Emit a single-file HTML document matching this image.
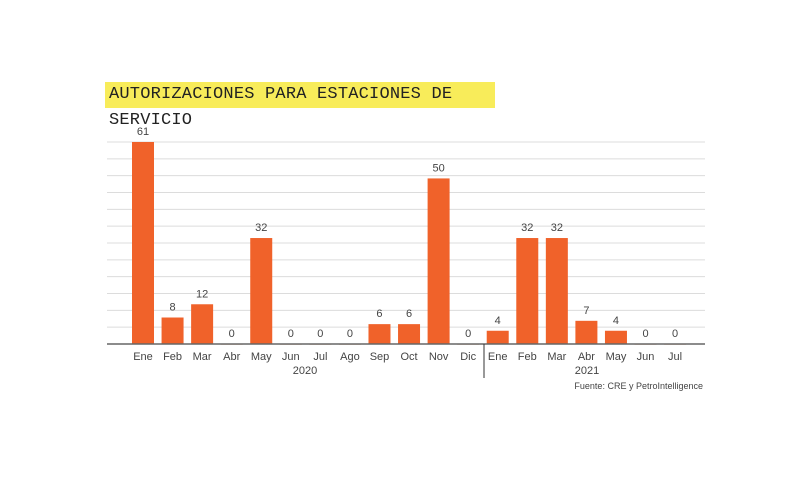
<!DOCTYPE html>
<html><head><meta charset="utf-8">
<style>
html,body{margin:0;padding:0;background:#fff;width:800px;height:502px;overflow:hidden}
#title{position:absolute;left:105px;top:82px;width:390px;height:26px;background:#f8ec5a;font-family:"Liberation Mono",monospace;font-size:17px;line-height:26px;color:#222;padding-left:4px;box-sizing:border-box;letter-spacing:0.2px}
svg{position:absolute;left:0;top:0}
text{font-family:"Liberation Sans",sans-serif;fill:#444}
</style></head>
<body>
<div id="title">AUTORIZACIONES PARA ESTACIONES DE SERVICIO</div>
<svg id="chart" width="800" height="502"></svg>
<script>
const categories=["Ene","Feb","Mar","Abr","May","Jun","Jul","Ago","Sep","Oct","Nov","Dic","Ene","Feb","Mar","Abr","May","Jun","Jul"];
const values=[61,8,12,0,32,0,0,0,6,6,50,0,4,32,32,7,4,0,0];
const years=["2020","2021"];
const NS="http://www.w3.org/2000/svg";
const svg=document.getElementById('chart');
const base=344, top61=142, x0=143, step=29.56, bw=22;
const yScale=v=>base-v*(base-top61)/61;
const xScale=i=>x0+i*step;
function el(t,a){const e=document.createElementNS(NS,t);for(const k in a)e.setAttribute(k,a[k]);svg.appendChild(e);return e;}
for(let g=1;g<=12;g++){
  const y=base-g*(base-top61)/12;
  const l=el('line',{x1:107,x2:705,y1:y,y2:y,stroke:'#dcdcdc','stroke-width':1});
  
  
}
categories.forEach((c,i)=>{
  const v=values[i],x=xScale(i),y=yScale(v);
  const r=el('rect',{x:x-bw/2,y:y,width:bw,height:Math.max(base-y,0.8),fill:v>0?'#f0622a':'#f7c9b0'});
  
  
  const t=el('text',{x:x,y:y-7,'text-anchor':'middle','font-size':11});
  t.textContent=v;
  
  
  const xl=el('text',{x:x,y:360,'text-anchor':'middle','font-size':11});
  xl.textContent=c;
  
  
});
const ax=el('line',{x1:107,x2:705,y1:base,y2:base,stroke:'#666','stroke-width':1.5});


const sep=el('line',{x1:484,x2:484,y1:base,y2:378,stroke:'#333','stroke-width':1});


[[305,years[0]],[587,years[1]]].forEach(([x,yr])=>{
  const t=el('text',{x:x,y:374,'text-anchor':'middle','font-size':11});
  t.textContent=yr;
  
  
});
const s=el('text',{x:703,y:389,'text-anchor':'end','font-size':9});
s.textContent='Fuente: CRE y PetroIntelligence';


</script>
</body></html>
